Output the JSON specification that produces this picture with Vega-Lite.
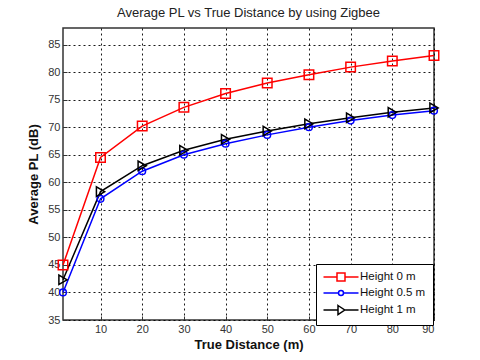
{
  "$schema": "https://vega.github.io/schema/vega-lite/v6.json",
  "width": 371,
  "height": 292,
  "autosize": {"type": "none"},
  "padding": {"left": 63, "top": 28, "right": 46, "bottom": 40},
  "background": "white",
  "title": {"text": "Average PL vs True Distance by using Zigbee", "font": "Liberation Sans", "fontSize": 13, "fontWeight": "normal", "color": "#222", "offset": 8},
  "config": {
    "view": {"stroke": "#333", "strokeWidth": 1.5},
    "axis": {"labelFont": "Liberation Sans", "labelFontSize": 11, "labelColor": "#333", "titleFont": "Liberation Sans", "titleFontSize": 13, "titleFontWeight": "bold", "titleColor": "#111", "grid": true, "gridColor": "#000", "gridDash": [2, 3], "gridOpacity": 0.9, "tickColor": "#333", "tickSize": -4, "labelPadding": 7, "domain": false}
  },
  "data": {"values": [
    {"d": 1, "pl": 45, "s": "Height 0 m"},
    {"d": 10, "pl": 64.5, "s": "Height 0 m"},
    {"d": 20, "pl": 70.2, "s": "Height 0 m"},
    {"d": 30, "pl": 73.6, "s": "Height 0 m"},
    {"d": 40, "pl": 76.1, "s": "Height 0 m"},
    {"d": 50, "pl": 78, "s": "Height 0 m"},
    {"d": 60, "pl": 79.5, "s": "Height 0 m"},
    {"d": 70, "pl": 80.9, "s": "Height 0 m"},
    {"d": 80, "pl": 82, "s": "Height 0 m"},
    {"d": 90, "pl": 83, "s": "Height 0 m"},
    {"d": 1, "pl": 40, "s": "Height 0.5 m"},
    {"d": 10, "pl": 57, "s": "Height 0.5 m"},
    {"d": 20, "pl": 62, "s": "Height 0.5 m"},
    {"d": 30, "pl": 65, "s": "Height 0.5 m"},
    {"d": 40, "pl": 67, "s": "Height 0.5 m"},
    {"d": 50, "pl": 68.6, "s": "Height 0.5 m"},
    {"d": 60, "pl": 70, "s": "Height 0.5 m"},
    {"d": 70, "pl": 71.2, "s": "Height 0.5 m"},
    {"d": 80, "pl": 72.2, "s": "Height 0.5 m"},
    {"d": 90, "pl": 73, "s": "Height 0.5 m"},
    {"d": 1, "pl": 42.3, "s": "Height 1 m"},
    {"d": 10, "pl": 58.3, "s": "Height 1 m"},
    {"d": 20, "pl": 63, "s": "Height 1 m"},
    {"d": 30, "pl": 65.8, "s": "Height 1 m"},
    {"d": 40, "pl": 67.8, "s": "Height 1 m"},
    {"d": 50, "pl": 69.3, "s": "Height 1 m"},
    {"d": 60, "pl": 70.6, "s": "Height 1 m"},
    {"d": 70, "pl": 71.7, "s": "Height 1 m"},
    {"d": 80, "pl": 72.7, "s": "Height 1 m"},
    {"d": 90, "pl": 73.5, "s": "Height 1 m"}
  ]},
  "encoding": {
    "x": {"field": "d", "type": "quantitative", "title": "True Distance (m)", "scale": {"domain": [1, 90], "nice": false, "zero": false}, "axis": {"values": [10, 20, 30, 40, 50, 60, 70, 80, 90], "titlePadding": 4}},
    "y": {"field": "pl", "type": "quantitative", "title": "Average PL (dB)", "scale": {"domain": [35, 88], "nice": false, "zero": false}, "axis": {"values": [35, 40, 45, 50, 55, 60, 65, 70, 75, 80, 85], "titlePadding": 7}}
  },
  "layer": [
    {
      "mark": {"type": "line", "strokeWidth": 1.5},
      "encoding": {
        "color": {"field": "s", "type": "nominal", "scale": {"domain": ["Height 0 m", "Height 0.5 m", "Height 1 m"], "range": ["#ff0000", "#0000ff", "#000000"]},
          "legend": {"title": null, "orient": "none", "legendX": 253, "legendY": 236, "fillColor": "white", "strokeColor": "#000", "padding": 7, "rowPadding": 3, "labelFont": "Liberation Sans", "labelFontSize": 11.5, "labelColor": "#111", "symbolSize": 100, "symbolStrokeWidth": 1.5, "symbolType": "M-1,0H1", "symbolOffset": 12, "labelOffset": 13,
            "encode": {"symbols": {"update": {"fill": {"value": "transparent"}, "shape": {"signal": "datum.value === 'Height 0 m' ? 'M-3.5,0H-0.8M0.8,0H3.5M-0.8,-0.8H0.8V0.8H-0.8Z' : datum.value === 'Height 0.5 m' ? 'M-3.5,0H-0.5M0.5,0H3.5M-0.5,0A0.5,0.5 0 1,0 0.5,0A0.5,0.5 0 1,0 -0.5,0Z' : 'M-3.5,0H-0.6M0.75,0H3.5M-0.6,-0.9L0.75,0L-0.6,0.9Z'"}}}}}}
      }
    },
    {
      "transform": [{"filter": "datum.s === 'Height 0 m'"}],
      "mark": {"type": "point", "filled": false, "strokeWidth": 1.5, "opacity": 1, "shape": "square", "size": 90, "color": "#ff0000"}
    },
    {
      "transform": [{"filter": "datum.s === 'Height 0.5 m'"}],
      "mark": {"type": "point", "filled": false, "strokeWidth": 1.5, "opacity": 1, "shape": "circle", "size": 45, "color": "#0000ff"}
    },
    {
      "transform": [{"filter": "datum.s === 'Height 1 m'"}],
      "mark": {"type": "point", "filled": false, "strokeWidth": 1.5, "opacity": 1, "shape": "triangle-right", "size": 90, "color": "#000000"}
    }
  ]
}
